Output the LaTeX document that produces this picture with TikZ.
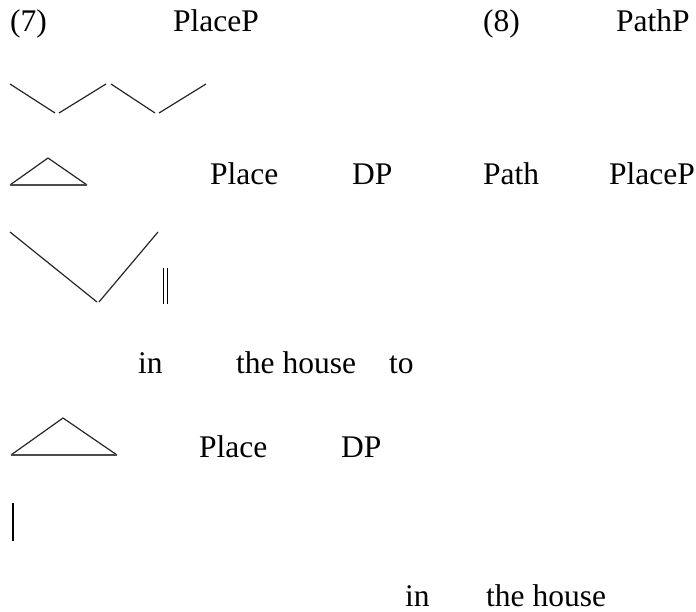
\documentclass[tikz,border=0pt]{standalone}
\usepackage{fontspec}
\setmainfont{Liberation Serif}
\begin{document}
\begin{tikzpicture}[x=1pt,y=-1pt,
  lbl/.style={inner sep=0pt,anchor=base west,font=\fontsize{31.5}{38}\selectfont},
  branch/.style={draw=black!85,line width=1.2pt},
  basebar/.style={draw=black!70,line width=2.4pt},
  bar/.style={draw=black,line width=1.8pt}]
\useasboundingbox (0,0) rectangle (696,612);
% row 1
\node[lbl] (n7) at (10,32) {(7)};
\node[lbl] (placeP1) at (173,32) {PlaceP};
\node[lbl] (n8) at (483,32) {(8)};
\node[lbl] (pathP) at (616,32) {PathP};
% zigzag
\coordinate (z1) at (10,84); \coordinate (z2) at (55,113);
\coordinate (z3) at (59,113); \coordinate (z4) at (106,84);
\coordinate (z5) at (111,84); \coordinate (z6) at (155,113);
\coordinate (z7) at (159,113); \coordinate (z8) at (206,84);
\draw[branch] (z1) -- (z2);
\draw[branch] (z3) -- (z4);
\draw[branch] (z5) -- (z6);
\draw[branch] (z7) -- (z8);
% triangle 1
\coordinate (t1a) at (48,158); \coordinate (t1l) at (10,185); \coordinate (t1r) at (87,185);
\draw[branch] (t1l) -- (t1a) -- (t1r);
\draw[basebar] (t1l) -- (t1r);
% row 3
\node[lbl] (place1) at (210,185) {Place};
\node[lbl] (dp1) at (352,185) {DP};
\node[lbl] (path) at (483,185) {Path};
\node[lbl] (placeP2) at (609,185) {PlaceP};
% V
\coordinate (v1) at (10,232); \coordinate (v2) at (97,302);
\coordinate (v3) at (99,302); \coordinate (v4) at (158,232);
\draw[branch] (v1) -- (v2);
\draw[branch] (v3) -- (v4);
% double bar
\coordinate (d1t) at (163.5,268); \coordinate (d1b) at (163.5,304);
\coordinate (d2t) at (167.5,268); \coordinate (d2b) at (167.5,304);
\draw[bar] (d1t) -- (d1b);
\draw[bar] (d2t) -- (d2b);
% row 5
\node[lbl] (in1) at (138,373) {in};
\node[lbl] (house1) at (236,373) {the house};
\node[lbl] (to) at (389,373) {to};
% triangle 2
\coordinate (t2a) at (63,418); \coordinate (t2l) at (11,455); \coordinate (t2r) at (117,455);
\draw[branch] (t2l) -- (t2a) -- (t2r);
\draw[basebar] (t2l) -- (t2r);
% row 6
\node[lbl] (place2) at (199,457) {Place};
\node[lbl] (dp2) at (341,457) {DP};
% single bar
\coordinate (s1t) at (13,503); \coordinate (s1b) at (13,541);
\draw[bar] (s1t) -- (s1b);
% row 8
\node[lbl] (in2) at (405,606) {in};
\node[lbl] (house2) at (486,606) {the house};
\end{tikzpicture}
\end{document}
